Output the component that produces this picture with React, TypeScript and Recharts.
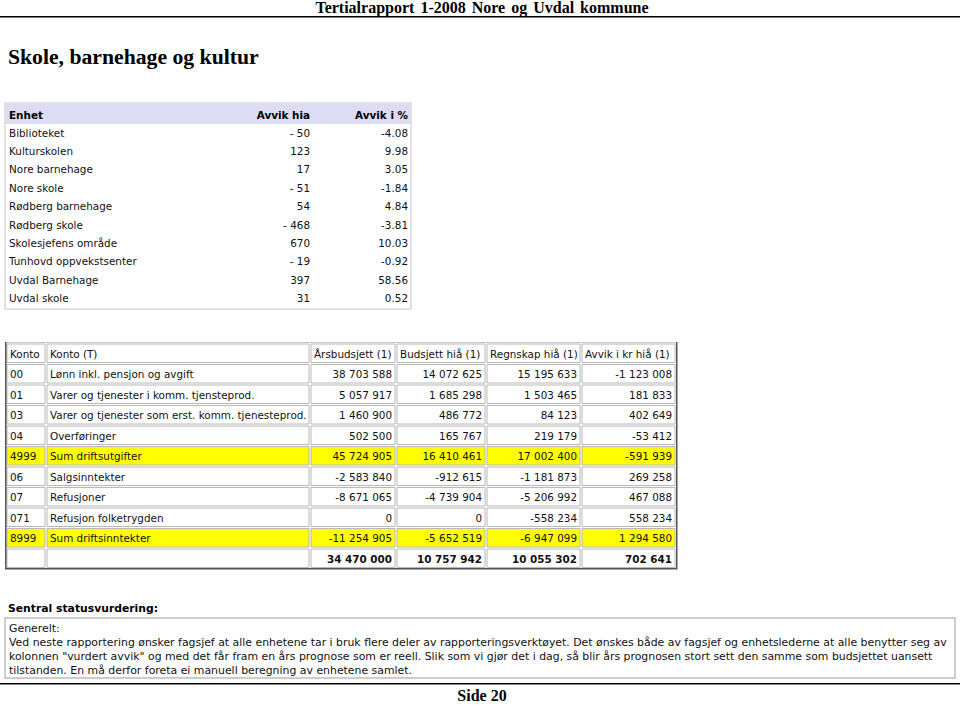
import React from 'react';
import { Surface, Layer, Text, Rectangle } from 'recharts';

// ---------- data ----------
const pageHeader = 'Tertialrapport  1-2008  Nore og Uvdal kommune';
const pageTitle = 'Skole, barnehage og kultur';
const pageFooter = 'Side 20';

const unitHeaders = ['Enhet', 'Avvik hia', 'Avvik i %'];
const units = [
  'Biblioteket',
  'Kulturskolen',
  'Nore barnehage',
  'Nore skole',
  'Rødberg barnehage',
  'Rødberg skole',
  'Skolesjefens område',
  'Tunhovd oppvekstsenter',
  'Uvdal Barnehage',
  'Uvdal skole',
];
const avvikHia = [-50, 123, 17, -51, 54, -468, 670, -19, 397, 31];
const avvikPct = [-4.08, 9.98, 3.05, -1.84, 4.84, -3.81, 10.03, -0.92, 58.56, 0.52];

const kontoHeaders = ['Konto', 'Konto (T)', 'Årsbudsjett (1)', 'Budsjett hiå (1)', 'Regnskap hiå (1)', 'Avvik i kr hiå (1)'];
const kontoCodes = ['00', '01', '03', '04', '4999', '06', '07', '071', '8999', ''];
const kontoNames = [
  'Lønn inkl. pensjon og avgift',
  'Varer og tjenester i komm. tjensteprod.',
  'Varer og tjenester som erst. komm. tjenesteprod.',
  'Overføringer',
  'Sum driftsutgifter',
  'Salgsinntekter',
  'Refusjoner',
  'Refusjon folketrygden',
  'Sum driftsinntekter',
  '',
];
const arsbudsjett = [38703588, 5057917, 1460900, 502500, 45724905, -2583840, -8671065, 0, -11254905, 34470000];
const budsjettHia = [14072625, 1685298, 486772, 165767, 16410461, -912615, -4739904, 0, -5652519, 10757942];
const regnskapHia = [15195633, 1503465, 84123, 219179, 17002400, -1181873, -5206992, -558234, -6947099, 10055302];
const avvikKr = [-1123008, 181833, 402649, -53412, -591939, 269258, 467088, 558234, 1294580, 702641];
const highlightedCodes = ['4999', '8999'];

const statusHeading = 'Sentral statusvurdering:';
const statusLines = [
  'Generelt:',
  'Ved neste rapportering ønsker fagsjef at alle enhetene tar i bruk flere deler av rapporteringsverktøyet. Det ønskes både av fagsjef og enhetslederne at alle benytter seg av',
  'kolonnen "vurdert avvik" og med det får fram en års prognose som er reell. Slik som vi gjør det i dag, så blir års prognosen stort sett den samme som budsjettet uansett',
  'tilstanden. En må derfor foreta ei manuell beregning av enhetene samlet.',
];

// ---------- helpers ----------
const fmtSpaced = (n: number) => {
  const s = Math.abs(n).toString().replace(/\B(?=(\d{3})+(?!\d))/g, ' ');
  return (n < 0 ? '-' : '') + s;
};
const fmtHia = (n: number) => (n < 0 ? '- ' + Math.abs(n) : String(n));
const fmtPct = (n: number) => n.toFixed(2);

const W = 960;
const H = 705;
const SANS = 'DejaVu Sans, Verdana, sans-serif';
const SERIF = 'Liberation Serif, Times New Roman, serif';
const FS = 10.4;

// table 2 layout
const colEdges = [6, 46, 310, 396, 486, 581, 676];
const t2Top = 344;
const t2Pitch = 20.5;
const t2CellH = 18.5;

// table 1 layout
const t1Left = 5;
const t1Right = 411;
const t1Top = 103;
const t1HeadH = 21;
const t1Pitch = 18.4;

const T = (props: any) => <Text {...props} />;

export default function App() {
  const numericCols = [arsbudsjett, budsjettHia, regnskapHia, avvikKr];
  const rows2 = kontoCodes.map((code, i) => ({
    cells: [code, kontoNames[i], ...numericCols.map((c) => fmtSpaced(c[i]))],
    highlight: highlightedCodes.includes(code),
    total: code === '' && i === kontoCodes.length - 1,
  }));
  const nRows2 = rows2.length + 1;
  const t2Bottom = t2Top + nRows2 * t2Pitch - 1.5;
  const t1Bottom = t1Top + t1HeadH + units.length * t1Pitch + 1;

  return (
    <div style={{ position: 'absolute', left: 0, top: 0, width: W, height: H, background: '#fff' }}>
      <Surface width={W} height={H}>
        {/* page header */}
        <Layer>
          <T x={482} y={12.5} textAnchor="middle" style={{ fontFamily: SERIF, fontWeight: 700, fontSize: 16, wordSpacing: 2 }} fill="#000">
            {pageHeader}
          </T>
          <Rectangle x={0} y={16} width={W} height={1.5} fill="#000" />
          <T x={8} y={64} textAnchor="start" style={{ fontFamily: SERIF, fontWeight: 700, fontSize: 21.7 }} fill="#000">
            {pageTitle}
          </T>
        </Layer>

        {/* table 1 */}
        <Layer>
          <Rectangle x={t1Left} y={t1Top} width={t1Right - t1Left} height={t1Bottom - t1Top} fill="#fff" stroke="#c4c4cc" strokeWidth={1} />
          <Rectangle x={t1Left + 1} y={t1Top + 1} width={t1Right - t1Left - 2} height={t1HeadH - 1} fill="#dcdcf4" />
          <T x={9} y={t1Top + 15.5} style={{ fontFamily: SANS, fontWeight: 700, fontSize: FS }} fill="#000">{unitHeaders[0]}</T>
          <T x={310} y={t1Top + 15.5} textAnchor="end" style={{ fontFamily: SANS, fontWeight: 700, fontSize: FS }} fill="#000">{unitHeaders[1]}</T>
          <T x={408} y={t1Top + 15.5} textAnchor="end" style={{ fontFamily: SANS, fontWeight: 700, fontSize: FS }} fill="#000">{unitHeaders[2]}</T>
          {units.map((u, i) => {
            const y = t1Top + t1HeadH + 12.5 + i * t1Pitch;
            return (
              <Layer key={u}>
                <T x={9} y={y} style={{ fontFamily: SANS, fontSize: FS }} fill="#111">{u}</T>
                <T x={310} y={y} textAnchor="end" style={{ fontFamily: SANS, fontSize: FS }} fill="#111">{fmtHia(avvikHia[i])}</T>
                <T x={408} y={y} textAnchor="end" style={{ fontFamily: SANS, fontSize: FS }} fill="#111">{fmtPct(avvikPct[i])}</T>
              </Layer>
            );
          })}
        </Layer>

        {/* table 2 */}
        <Layer>
          {[{ cells: kontoHeaders, highlight: false, total: false, header: true }, ...rows2.map((r) => ({ ...r, header: false }))].map((row, r) => {
            const top = t2Top + r * t2Pitch;
            const base = top + 13.5;
            return (
              <Layer key={'r' + r}>
                {row.cells.map((txt, c) => {
                  const x0 = colEdges[c] + 1;
                  const x1 = colEdges[c + 1] - 1;
                  const numeric = c >= 2 && !row.header;
                  return (
                    <Layer key={'c' + c}>
                      <Rectangle
                        x={x0}
                        y={top}
                        width={x1 - x0}
                        height={t2CellH}
                        fill={row.highlight ? '#ffff00' : '#fff'}
                        stroke="#b8b8b8"
                        strokeWidth={1}
                      />
                      {txt !== '' && (
                        <T
                          x={numeric ? x1 - 3 : x0 + 3}
                          y={base}
                          textAnchor={numeric ? 'end' : 'start'}
                          style={{ fontFamily: SANS, fontSize: FS, fontWeight: row.total ? 700 : 400 }}
                          fill="#111"
                        >
                          {txt}
                        </T>
                      )}
                    </Layer>
                  );
                })}
              </Layer>
            );
          })}
          {/* outer frame */}
          <Rectangle x={colEdges[0] - 1} y={t2Top - 2} width={colEdges[6] - colEdges[0] + 2} height={1} fill="#c8c8c8" />
          <Rectangle x={colEdges[0] - 1} y={t2Top - 2} width={1.5} height={t2Bottom - t2Top + 2} fill="#555" />
          <Rectangle x={colEdges[6]} y={t2Top - 2} width={1.5} height={t2Bottom - t2Top + 2} fill="#555" />
          <Rectangle x={colEdges[0] - 1} y={t2Bottom} width={colEdges[6] - colEdges[0] + 2.5} height={1.5} fill="#555" />
        </Layer>

        {/* status */}
        <Layer>
          <T x={8} y={612} style={{ fontFamily: SANS, fontWeight: 700, fontSize: 10.8 }} fill="#000">{statusHeading}</T>
          <Rectangle x={5} y={618} width={950} height={60} fill="#fff" stroke="#bdbdbd" strokeWidth={1.5} />
          {statusLines.map((line, i) => (
            <T key={i} x={9} y={632 + i * 14} style={{ fontFamily: SANS, fontSize: 10.9 }} fill="#111">
              {line}
            </T>
          ))}
        </Layer>

        {/* footer */}
        <Layer>
          <Rectangle x={0} y={683} width={W} height={1.5} fill="#000" />
          <T x={482} y={701} textAnchor="middle" style={{ fontFamily: SERIF, fontWeight: 700, fontSize: 16 }} fill="#000">
            {pageFooter}
          </T>
        </Layer>
      </Surface>
    </div>
  );
}
